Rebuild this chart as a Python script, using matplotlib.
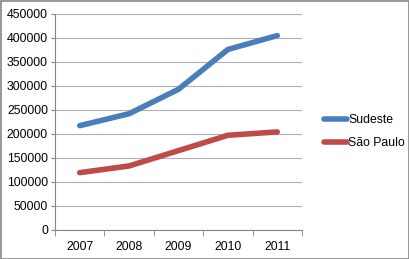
import matplotlib
matplotlib.use("Agg")
import matplotlib.pyplot as plt
from matplotlib.patches import Rectangle
import numpy as np

years = ["2007", "2008", "2009", "2010", "2011"]
sudeste = [217000, 242000, 293000, 376000, 405000]
sao_paulo = [119000, 133000, 165000, 197000, 204000]
yticks = list(range(0, 450001, 50000))

plt.rcParams['font.family'] = ['Liberation Sans', 'DejaVu Sans']

fig = plt.figure(figsize=(4.09, 2.59), dpi=100)
ax = fig.add_axes([55/409, 1 - 229.7/259, (302 - 55)/409, (229.7 - 14)/259])

x = np.arange(len(years))
l1, = ax.plot(x, sudeste, color='#4A7EBB', lw=4.0, solid_capstyle='round', solid_joinstyle='round', label='Sudeste')
l2, = ax.plot(x, sao_paulo, color='#BE4B48', lw=4.0, solid_capstyle='round', solid_joinstyle='round', label='São Paulo')

ax.set_xlim(-0.5, len(years) - 0.5)
ax.set_ylim(0, 450000)
ax.set_yticks(yticks)
ax.set_yticklabels([str(v) for v in yticks], fontsize=8.8)
ax.set_xticks(x)
ax.set_xticklabels(years, fontsize=8.8)
ax.tick_params(axis='x', length=0, pad=8)
ax.set_xticks(np.arange(-0.5, len(years)), minor=True)
ax.tick_params(axis='x', which='minor', length=4, color='#868686', direction='out')
ax.tick_params(axis='y', length=3, color='#868686', direction='out', pad=2)
ax.grid(axis='y', color='#B0B0B0', lw=0.8)
ax.set_axisbelow(True)
for s in ['top', 'right']:
    ax.spines[s].set_visible(False)
for s in ['left', 'bottom']:
    ax.spines[s].set_color('#868686')
    ax.spines[s].set_linewidth(0.8)

fig.legend(handles=[l1, l2], loc='upper left', bbox_to_anchor=(319/409, 1 - 109/259),
           frameon=False, fontsize=8.8, handlelength=1.9, handletextpad=0.1,
           labelspacing=0.95, borderaxespad=0)

fig.patches.append(Rectangle((0.5/409, 0.5/259), 1 - 1/409, 1 - 1/259, transform=fig.transFigure,
                             fill=False, edgecolor='#868686', lw=1.2))

fig.savefig('out.png', dpi=100)
